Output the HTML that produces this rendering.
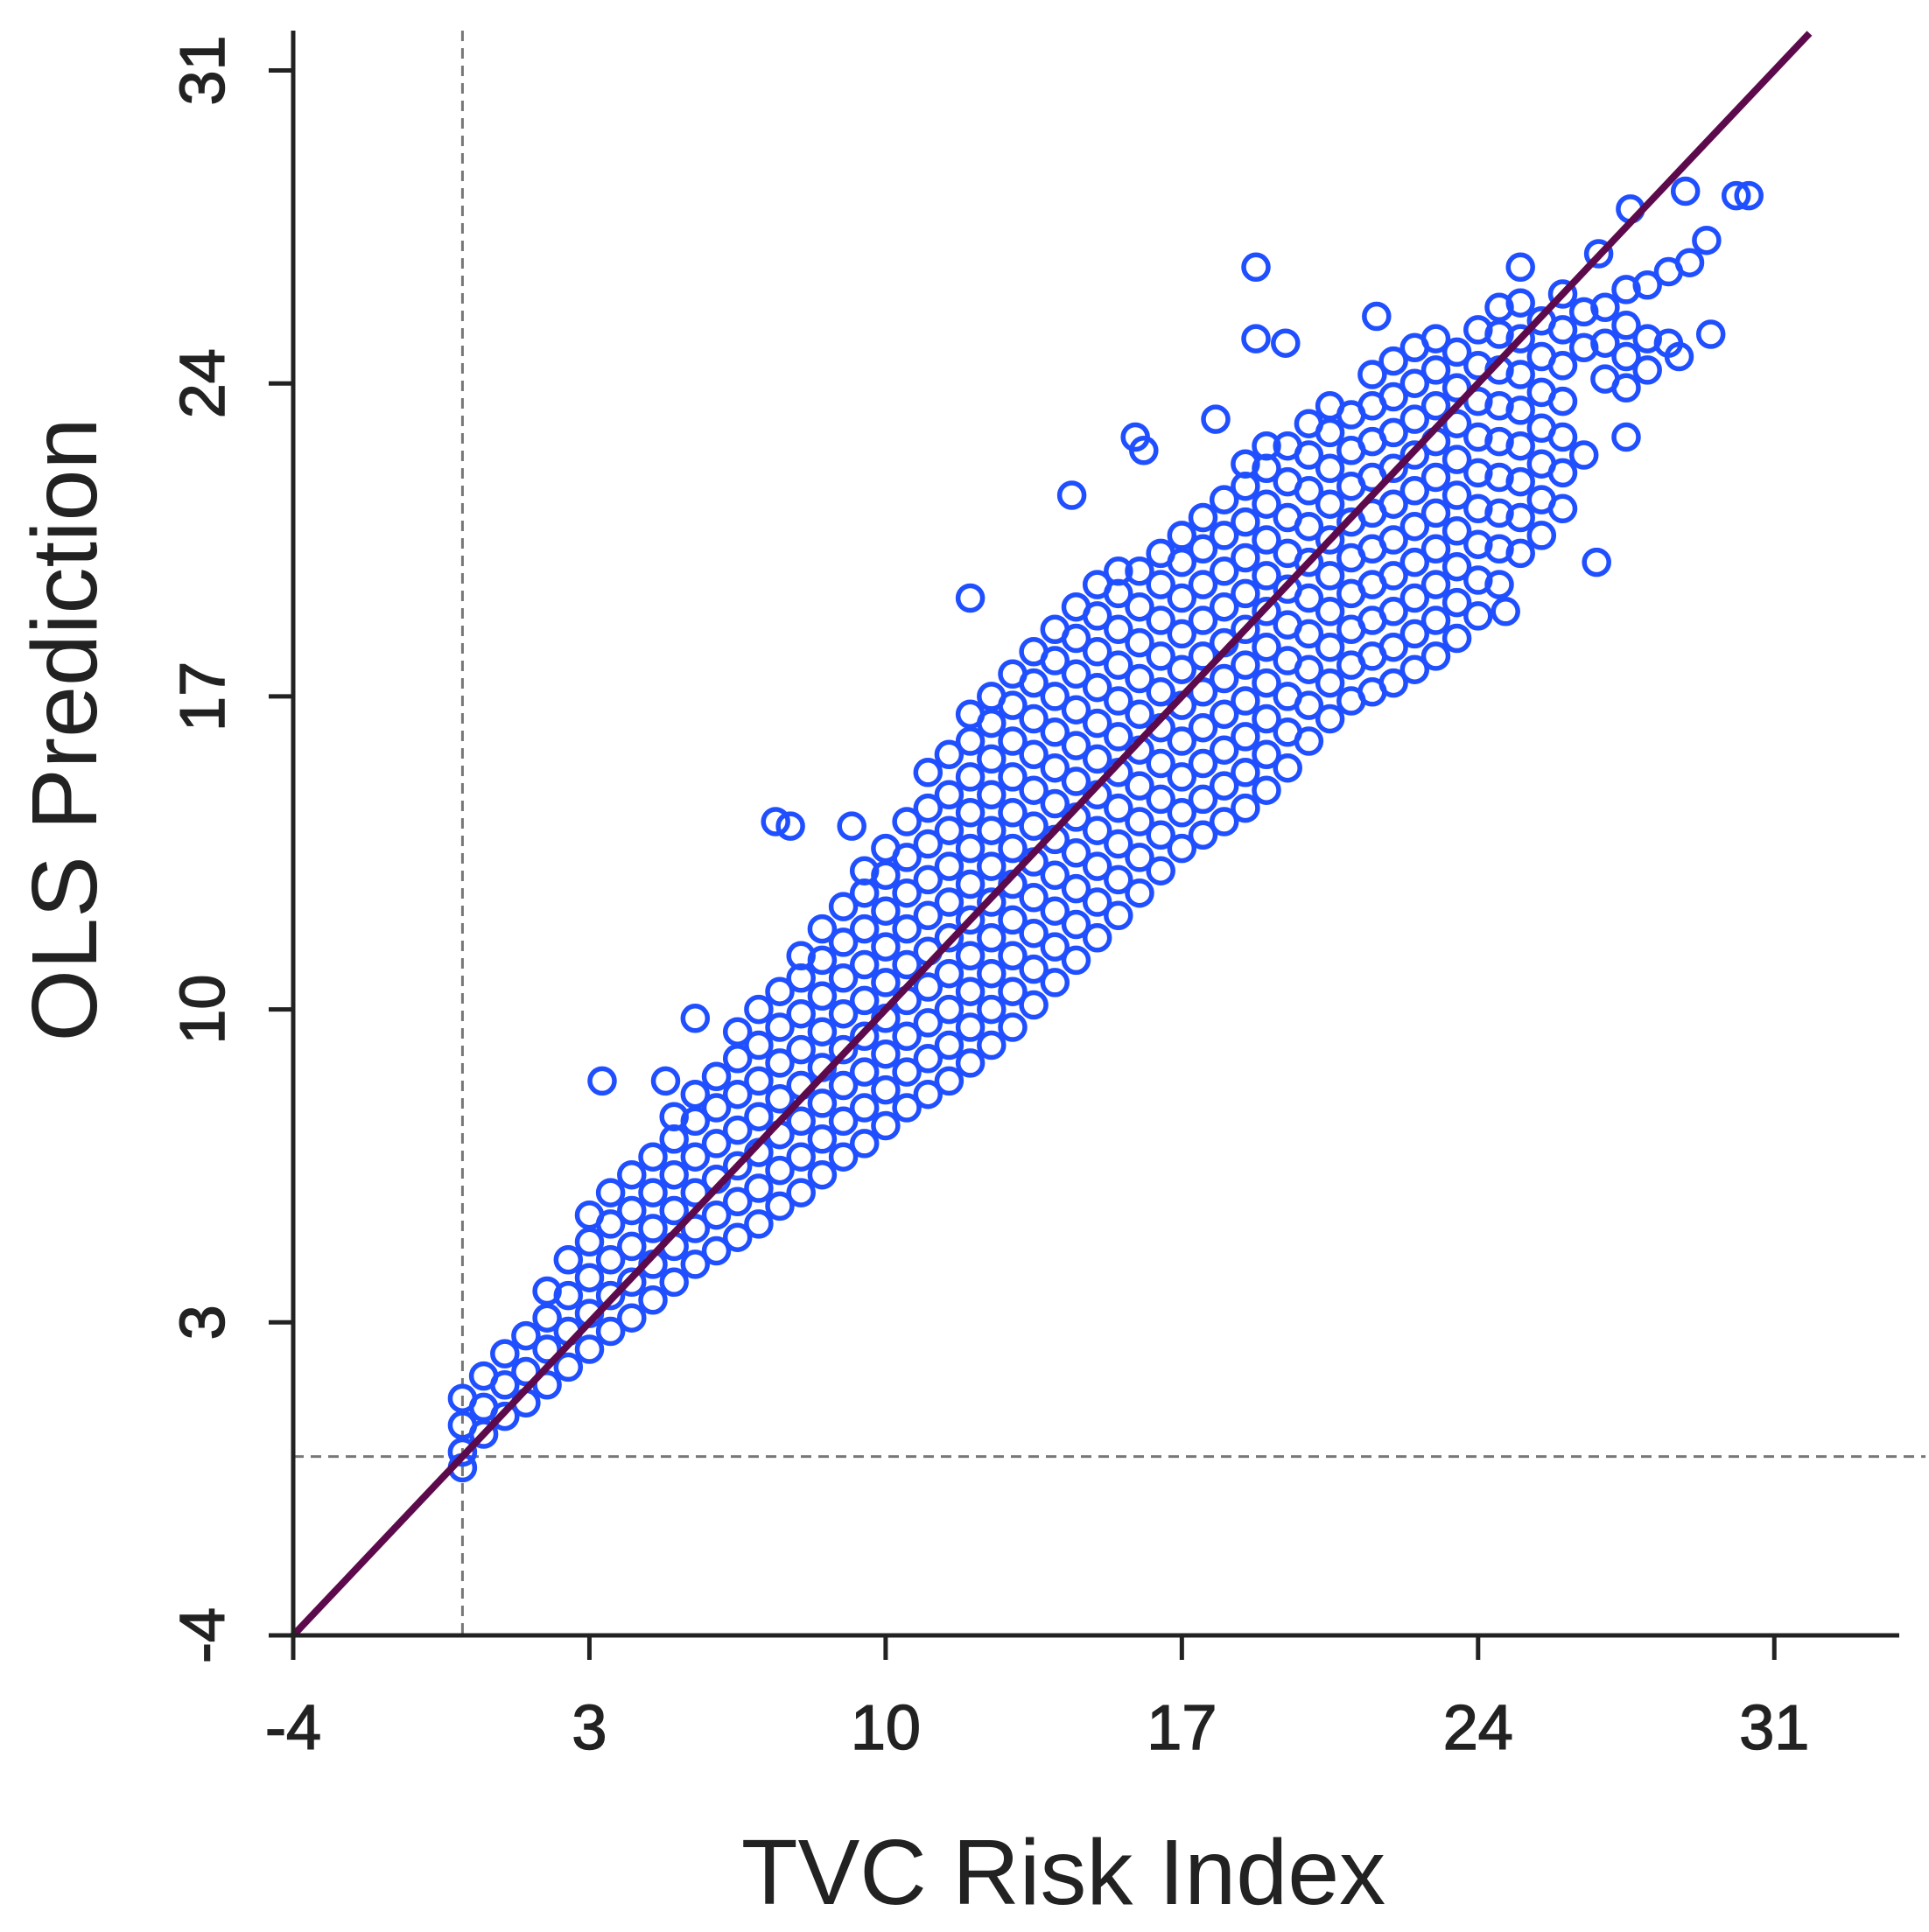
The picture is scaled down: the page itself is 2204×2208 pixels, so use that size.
<!DOCTYPE html>
<html><head><meta charset="utf-8"><style>
html,body{margin:0;padding:0;background:#fff;}
svg{display:block;}
text{font-family:"Liberation Sans",Arial,sans-serif;fill:#222;}
</style></head><body>
<svg id="chart" width="2204" height="2208" viewBox="0 0 2204 2208" xmlns="http://www.w3.org/2000/svg">
<g id="points"></g>
<g id="axes"></g>
</svg>
<script>
const xTicks = [-4, 3, 10, 17, 24, 31];
const yTicks = [-4, 3, 10, 17, 24, 31];
const refX = 0;
const refY = 0;
const tvc = [
0,0,0, 0.5,0.5,0.5, 1,1,1, 1.5,1.5,1.5,
2,2,2,2, 2.5,2.5,2.5,2.5, 3,3,3,3,3, 3.5,3.5,3.5,3.5,3.5, 4,4,4,4,4, 4.5,4.5,4.5,4.5,4.5,
5,5,5,5,5,5, 5.5,5.5,5.5,5.5,5.5,5.5, 6,6,6,6,6,6, 6.5,6.5,6.5,6.5,6.5,6.5,6.5,
7,7,7,7,7,7,7, 7.5,7.5,7.5,7.5,7.5,7.5,7.5, 8,8,8,8,8,8,8,8, 8.5,8.5,8.5,8.5,8.5,8.5,8.5,8.5,
9,9,9,9,9,9,9,9, 9.5,9.5,9.5,9.5,9.5,9.5,9.5,9.5,9.5, 10,10,10,10,10,10,10,10,10, 10.5,10.5,10.5,10.5,10.5,10.5,10.5,10.5,10.5,
11,11,11,11,11,11,11,11,11,11, 11.5,11.5,11.5,11.5,11.5,11.5,11.5,11.5,11.5,11.5,
12,12,12,12,12,12,12,12,12,12,12, 12.5,12.5,12.5,12.5,12.5,12.5,12.5,12.5,12.5,12.5,12.5,
13,13,13,13,13,13,13,13,13,13,13, 13.5,13.5,13.5,13.5,13.5,13.5,13.5,13.5,13.5,13.5,13.5,
14,14,14,14,14,14,14,14,14,14,14, 14.5,14.5,14.5,14.5,14.5,14.5,14.5,14.5,14.5,14.5,14.5,
15,15,15,15,15,15,15,15,15,15,15, 15.5,15.5,15.5,15.5,15.5,15.5,15.5,15.5,15.5,15.5,15.5,
16,16,16,16,16,16,16,16,16,16, 16.5,16.5,16.5,16.5,16.5,16.5,16.5,16.5,16.5,16.5,
17,17,17,17,17,17,17,17,17,17, 17.5,17.5,17.5,17.5,17.5,17.5,17.5,17.5,17.5,17.5,
18,18,18,18,18,18,18,18,18,18, 18.5,18.5,18.5,18.5,18.5,18.5,18.5,18.5,18.5,18.5,18.5,
19,19,19,19,19,19,19,19,19,19,19, 19.5,19.5,19.5,19.5,19.5,19.5,19.5,19.5,19.5,19.5,
20,20,20,20,20,20,20,20,20,20, 20.5,20.5,20.5,20.5,20.5,20.5,20.5,20.5,20.5,20.5,
21,21,21,21,21,21,21,21,21, 21.5,21.5,21.5,21.5,21.5,21.5,21.5,21.5,21.5,21.5,
22,22,22,22,22,22,22,22,22,22, 22.5,22.5,22.5,22.5,22.5,22.5,22.5,22.5,22.5,22.5,
23,23,23,23,23,23,23,23,23,23, 23.5,23.5,23.5,23.5,23.5,23.5,23.5,23.5,23.5,
24,24,24,24,24,24,24,24,24, 24.5,24.5,24.5,24.5,24.5,24.5,24.5,24.5,24.5,
25,25,25,25,25,25,25,25, 25.5,25.5,25.5,25.5,25.5,25.5,25.5, 26,26,26,26,26,26,26,
26.5,26.5,26.5, 27,27,27, 27.5,27.5,27.5,27.5, 28,28,28, 28.5,28.5, 29,
18.75,18.75,19.45,26.8,24.65,30.1,28.9,30.4,27.6,26.85,25.0,29.4,29.5,28.75,27.5,12.0,7.4,7.75,9.2,3.3,5.5,4.8,0.0,17.8,15.9,16.1,14.4,21.6
];
const ols = [
0.1,0.7,1.3, 0.5,1.1,1.8, 0.9,1.6,2.3, 1.2,1.9,2.7,
1.6,2.4,3.1,3.7, 2.0,2.8,3.6,4.4, 2.4,3.2,4.0,4.8,5.4, 2.8,3.6,4.4,5.2,5.9, 3.1,3.9,4.7,5.5,6.3, 3.5,4.3,5.1,5.9,6.7,
3.9,4.7,5.5,6.3,7.1,7.6, 4.3,5.1,5.9,6.7,7.5,8.1, 4.6,5.4,6.2,7.0,7.8,8.5, 4.9,5.7,6.5,7.3,8.1,8.9,9.5,
5.2,6.0,6.8,7.6,8.4,9.2,10.0, 5.6,6.4,7.2,8.0,8.8,9.6,10.4, 5.9,6.7,7.5,8.3,9.1,9.9,10.7,11.2, 6.3,7.1,7.9,8.7,9.5,10.3,11.1,11.8,
6.7,7.5,8.3,9.1,9.9,10.7,11.5,12.3, 7.0,7.8,8.6,9.4,10.2,11.0,11.8,12.6,13.1, 7.4,8.2,9.0,9.8,10.6,11.4,12.2,13.0,13.6, 7.8,8.6,9.4,10.2,11.0,11.8,12.6,13.4,14.2,
8.1,8.9,9.7,10.5,11.3,12.1,12.9,13.7,14.5,15.3, 8.4,9.2,10.0,10.8,11.6,12.4,13.2,14.0,14.8,15.7,
8.8,9.6,10.4,11.2,12.0,12.8,13.6,14.4,15.2,16.0,16.6, 9.2,10.0,10.8,11.6,12.4,13.2,14.0,14.8,15.6,16.4,17.0,
9.6,10.4,11.2,12.0,12.8,13.6,14.4,15.2,16.0,16.8,17.5, 10.1,10.9,11.7,12.5,13.3,14.1,14.9,15.7,16.5,17.3,18.0,
10.6,11.4,12.2,13.0,13.8,14.6,15.4,16.2,17.0,17.8,18.5, 11.1,11.9,12.7,13.5,14.3,15.1,15.9,16.7,17.5,18.3,19.0,
11.6,12.4,13.2,14.0,14.8,15.6,16.4,17.2,18.0,18.8,19.5, 12.1,12.9,13.7,14.5,15.3,16.1,16.9,17.7,18.5,19.3,19.8,
12.6,13.4,14.2,15.0,15.8,16.6,17.4,18.2,19.0,19.8, 13.1,13.9,14.7,15.5,16.3,17.1,17.9,18.7,19.5,20.2,
13.6,14.4,15.2,16.0,16.8,17.6,18.4,19.2,20.0,20.6, 13.9,14.7,15.5,16.3,17.1,17.9,18.7,19.5,20.3,21.0,
14.2,15.0,15.8,16.6,17.4,18.2,19.0,19.8,20.6,21.4, 14.5,15.3,16.1,16.9,17.7,18.5,19.3,20.1,20.9,21.7,22.2,
14.9,15.7,16.5,17.3,18.1,18.9,19.7,20.5,21.3,22.1,22.6, 15.4,16.2,17.0,17.8,18.6,19.4,20.2,21.0,21.8,22.6,
16.0,16.8,17.6,18.4,19.2,20.0,20.8,21.6,22.4,23.1, 16.5,17.3,18.1,18.9,19.7,20.5,21.3,22.1,22.9,23.5,
16.9,17.7,18.5,19.3,20.1,20.9,21.7,22.5,23.3, 17.1,17.9,18.7,19.5,20.3,21.1,21.9,22.7,23.5,24.2,
17.3,18.1,18.9,19.7,20.5,21.3,22.1,22.9,23.7,24.5, 17.6,18.4,19.2,20.0,20.8,21.6,22.4,23.2,24.0,24.8,
17.9,18.7,19.5,20.3,21.1,21.9,22.7,23.5,24.3,25.0, 18.3,19.1,19.9,20.7,21.5,22.3,23.1,23.9,24.7,
18.8,19.6,20.4,21.2,22.0,22.8,23.6,24.4,25.2, 19.5,20.3,21.1,21.9,22.7,23.5,24.3,25.1,25.7,
20.2,21.0,21.8,22.6,23.4,24.2,25.0,25.8, 20.6,21.4,22.2,23.0,23.8,24.6,25.4, 21.2,22.0,22.8,23.6,24.4,25.2,26.0,
22.4,24.8,25.6, 24.1,24.9,25.7, 23.9,24.6,25.3,26.1, 24.3,25.0,26.2, 24.9,26.5, 26.7,
26.6,25.0,24.9,20.0,18.9,28.2,28.3,28.2,27.9,26.9,26.6,27.2,25.1,24.6,22.8,19.2,14.2,14.1,14.1,8.4,9.8,8.4,-0.25,23.2,22.8,22.5,21.5,25.5
];

const NS = "http://www.w3.org/2000/svg";
const X0 = 335, XS = 48.35, Y0 = 1869, YS = 51.1;
function sx(v){ return X0 + (v + 4) * XS; }
function sy(v){ return Y0 - (v + 4) * YS; }
function mk(tag, attrs, parent){
  const e = document.createElementNS(NS, tag);
  for (const k in attrs) e.setAttribute(k, attrs[k]);
  parent.appendChild(e);
  return e;
}
const pts = document.getElementById('points');
const axes = document.getElementById('axes');

let e = mk('line', {x1: sx(refX), x2: sx(refX), y1: 35, y2: Y0, stroke:'#777', 'stroke-width':3, 'stroke-dasharray':'12,8'}, pts);


e = mk('line', {x1: 335, x2: 2200, y1: sy(refY), y2: sy(refY), stroke:'#777', 'stroke-width':3, 'stroke-dasharray':'12,8'}, pts);



for (let i = 0; i < tvc.length; i++) {
  const c = mk('circle', {cx: sx(tvc[i]).toFixed(1), cy: sy(ols[i]).toFixed(1), r: 14, fill:'none', stroke:'#1f4fff', 'stroke-width':5.5}, pts);
  
  
}

const topV = (Y0 - 38) / YS - 4;
e = mk('line', {x1: sx(-4), y1: sy(-4), x2: sx(topV), y2: sy(topV), stroke:'#5c0a4c', 'stroke-width':8}, pts);



e = mk('line', {x1: 335, x2: 335, y1: 35, y2: Y0 + 2, stroke:'#222', 'stroke-width':5}, axes);


e = mk('line', {x1: 333, x2: 2170, y1: Y0, y2: Y0, stroke:'#222', 'stroke-width':5}, axes);



xTicks.forEach(function(t){
  const tk = mk('line', {x1: sx(t), x2: sx(t), y1: Y0, y2: Y0 + 28, stroke:'#222', 'stroke-width':5}, axes);
  
  
  const lb = mk('text', {x: sx(t), y: 1999, 'text-anchor':'middle', 'font-size':72, stroke:'#222', 'stroke-width':1.5}, axes);
  lb.textContent = String(t);
  
  
});
yTicks.forEach(function(t){
  const tk = mk('line', {x1: 335 - 28, x2: 335, y1: sy(t), y2: sy(t), stroke:'#222', 'stroke-width':5}, axes);
  
  
  const lb = mk('text', {x: 0, y: 0, 'text-anchor':'middle', 'font-size':72, stroke:'#222', 'stroke-width':1.5, transform:'translate(256,' + sy(t) + ') rotate(-90)'}, axes);
  lb.textContent = String(t);
  
  
});

e = mk('text', {x: 1215, y: 2176, 'text-anchor':'middle', 'font-size':106}, axes);
e.textContent = 'TVC Risk Index';


e = mk('text', {x: 0, y: 0, 'text-anchor':'middle', 'font-size':106, transform:'translate(110,834) rotate(-90)'}, axes);
e.textContent = 'OLS Prediction';


</script>
</body></html>
